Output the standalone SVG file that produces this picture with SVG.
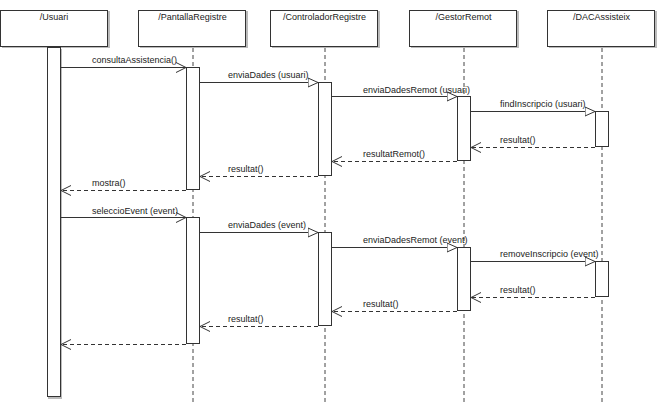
<svg xmlns="http://www.w3.org/2000/svg" width="658" height="402" viewBox="0 0 658 402">
<defs>
<marker id="tri" markerUnits="userSpaceOnUse" markerWidth="12" markerHeight="12" refX="10" refY="5" orient="auto" viewBox="0 0 12 10">
<path d="M0,0.5 L10,5 L0,9.5 Z" fill="#fff" stroke="#333" stroke-width="1"/>
</marker>
<marker id="open" markerUnits="userSpaceOnUse" markerWidth="12" markerHeight="12" refX="10" refY="5" orient="auto" viewBox="0 0 12 10">
<path d="M0,0 L10,5 L0,10" fill="none" stroke="#333" stroke-width="1"/>
</marker>
</defs>
<style>
.box{fill:#fff;stroke:#333;stroke-width:1}
.shadow{fill:#bbb;stroke:none}
.bar{fill:#fff;stroke:#333;stroke-width:1}
.life{stroke:#444;stroke-width:1;stroke-dasharray:4,3;fill:none}
.t{font-family:"Liberation Sans",Arial,sans-serif;font-size:9px;fill:#222}
.hd{font-family:"Liberation Sans",Arial,sans-serif;font-size:9px;fill:#222;text-anchor:middle}
.call{stroke:#333;stroke-width:1;fill:none;marker-end:url(#tri)}
.async{stroke:#333;stroke-width:1;fill:none;marker-end:url(#open)}
.ret{stroke:#333;stroke-width:1;fill:none;stroke-dasharray:4,3;marker-end:url(#open)}
</style>
<rect width="658" height="402" fill="#fff"/>
<g id="lifelines">
<line class="life" x1="193" y1="48" x2="193" y2="402"/>
<line class="life" x1="325" y1="48" x2="325" y2="402"/>
<line class="life" x1="464" y1="48" x2="464" y2="402"/>
<line class="life" x1="602" y1="48" x2="602" y2="402"/>
</g>
<g id="usuari">
<rect class="shadow" x="2" y="11" width="108" height="37"/>
<rect class="box" x="0.5" y="10.5" width="107" height="36"/>
<text class="hd" x="54" y="20">/Usuari</text>
<rect class="shadow" x="48" y="49" width="14" height="350"/>
<rect class="bar" x="47.5" y="47.5" width="13" height="349"/>
</g>
<g id="pantallaRegistre">
<rect class="shadow" x="140" y="11" width="108" height="37"/>
<rect class="box" x="138.5" y="10.5" width="107" height="36"/>
<text class="hd" x="192.5" y="20">/PantallaRegistre</text>
<rect class="bar" x="186.5" y="67.5" width="13" height="122"/>
<rect class="bar" x="186.5" y="217.5" width="13" height="126"/>
</g>
<g id="controladorRegistre">
<rect class="shadow" x="272" y="11" width="108" height="37"/>
<rect class="box" x="270.5" y="10.5" width="107" height="36"/>
<text class="hd" x="324.5" y="20">/ControladorRegistre</text>
<rect class="bar" x="318.5" y="82.5" width="13" height="93"/>
<rect class="bar" x="318.5" y="232.5" width="13" height="93"/>
</g>
<g id="gestorRemot">
<rect class="shadow" x="411" y="11" width="108" height="37"/>
<rect class="box" x="409.5" y="10.5" width="107" height="36"/>
<text class="hd" x="463.5" y="20">/GestorRemot</text>
<rect class="bar" x="457.5" y="96.5" width="13" height="64"/>
<rect class="bar" x="457.5" y="247.5" width="13" height="63"/>
</g>
<g id="dacAssisteix">
<rect class="shadow" x="549" y="11" width="108" height="37"/>
<rect class="box" x="547.5" y="10.5" width="107" height="36"/>
<text class="hd" x="601.5" y="20">/DACAssisteix</text>
<rect class="bar" x="595.5" y="111.5" width="13" height="35"/>
<rect class="bar" x="595.5" y="261.5" width="13" height="35"/>
</g>
<g id="connectors">
<line class="async" x1="61" y1="67.5" x2="186" y2="67.5"/>
<line class="call" x1="200" y1="82.5" x2="318" y2="82.5"/>
<line class="call" x1="332" y1="96.5" x2="457" y2="96.5"/>
<line class="call" x1="471" y1="111.5" x2="595" y2="111.5"/>
<line class="ret" x1="595" y1="147.5" x2="471" y2="147.5"/>
<line class="ret" x1="457" y1="161.5" x2="332" y2="161.5"/>
<line class="ret" x1="318" y1="176.5" x2="200" y2="176.5"/>
<line class="ret" x1="186" y1="190.5" x2="61" y2="190.5"/>
<line class="async" x1="61" y1="217.5" x2="186" y2="217.5"/>
<line class="call" x1="200" y1="232.5" x2="318" y2="232.5"/>
<line class="call" x1="332" y1="247.5" x2="457" y2="247.5"/>
<line class="call" x1="471" y1="261.5" x2="595" y2="261.5"/>
<line class="ret" x1="595" y1="297.5" x2="471" y2="297.5"/>
<line class="ret" x1="457" y1="311.5" x2="332" y2="311.5"/>
<line class="ret" x1="318" y1="326.5" x2="200" y2="326.5"/>
<line class="ret" x1="186" y1="344.5" x2="61" y2="344.5"/>
</g>
<g id="labels">
<text class="t" x="92" y="63">consultaAssistencia()</text>
<text class="t" x="228" y="78">enviaDades (usuari)</text>
<text class="t" x="363" y="92.5">enviaDadesRemot (usuari)</text>
<text class="t" x="500" y="107">findInscripcio (usuari)</text>
<text class="t" x="500" y="143">resultat()</text>
<text class="t" x="363" y="157">resultatRemot()</text>
<text class="t" x="228" y="172">resultat()</text>
<text class="t" x="92" y="186">mostra()</text>
<text class="t" x="92" y="214">seleccioEvent (event)</text>
<text class="t" x="228" y="228">enviaDades (event)</text>
<text class="t" x="363" y="243">enviaDadesRemot (event)</text>
<text class="t" x="500" y="257">removeInscripcio (event)</text>
<text class="t" x="500" y="293">resultat()</text>
<text class="t" x="363" y="307">resultat()</text>
<text class="t" x="228" y="322">resultat()</text>
</g>
</svg>
